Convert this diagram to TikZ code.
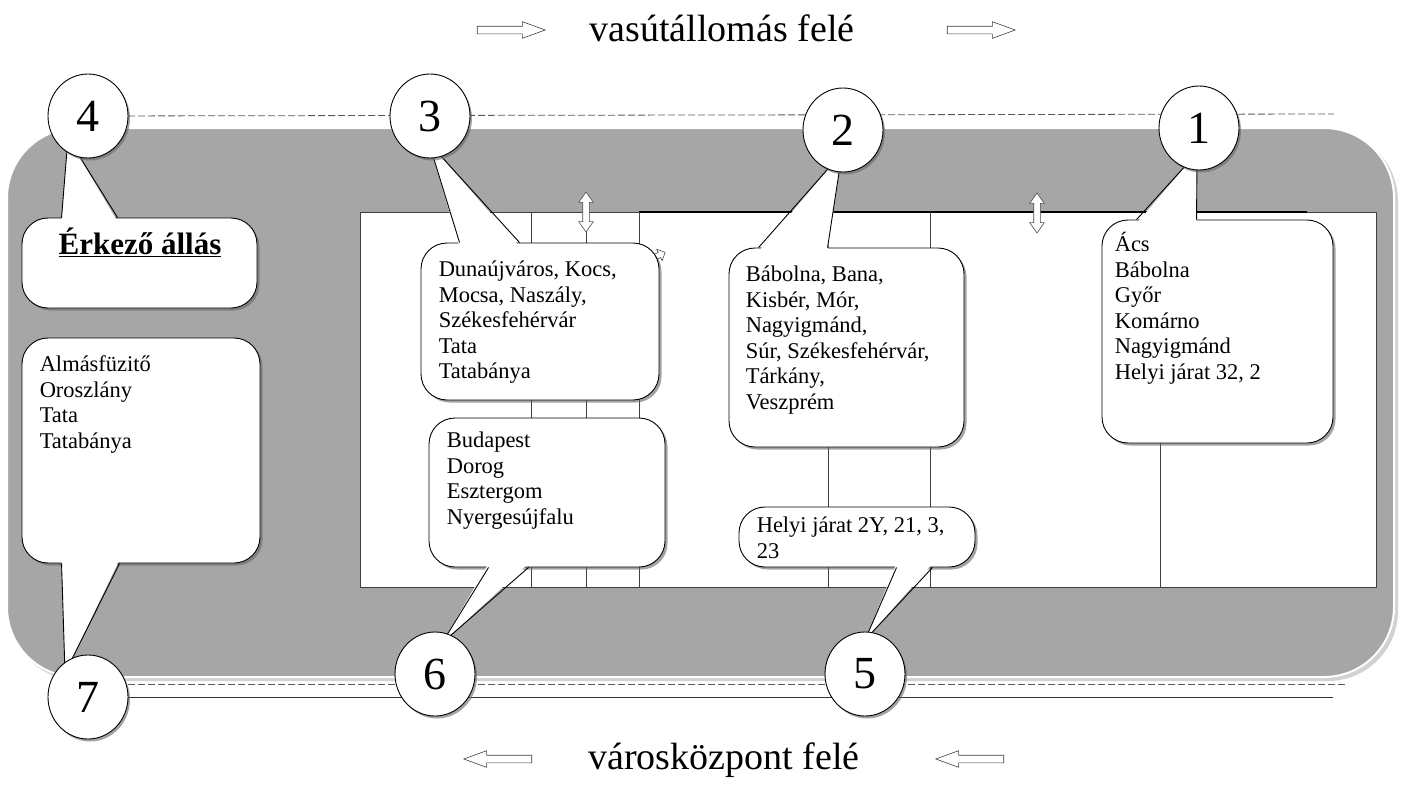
\documentclass[tikz,border=0pt]{standalone}
\usepackage{fontspec}
\setmainfont{Liberation Serif}
\usetikzlibrary{positioning}
\usetikzlibrary{calc,shapes.geometric,shapes.arrows,shadows}

\tikzset{
  road/.style={fill=gray!70, draw=white, line width=2, rounded corners=70},
  bubble/.style={draw, fill=white, line width=0.9, rounded corners=26,
    drop shadow={shadow xshift=2.5pt, shadow yshift=-2.5pt, fill=black!60, opacity=.6}},
  num/.style={ellipse, draw, fill=white, line width=0.9, minimum width=80, minimum height=84,
    inner sep=0, font=\fontsize{46}{46}\selectfont,
    drop shadow={shadow xshift=2pt, shadow yshift=-2.5pt, fill=black!60, opacity=.6}},
  txt/.style={anchor=base west, inner sep=0, font=\fontsize{22.5}{25.5}\selectfont},
  way/.style={single arrow, draw=black!75, fill=white, line width=0.6, minimum height=68,
    inner xsep=0, inner ysep=3.5, single arrow head extend=4.5, single arrow tip angle=40},
  updown/.style={double arrow, draw=black!70, fill=white, line width=0.6, minimum height=40,
    inner xsep=0, inner ysep=3, double arrow head extend=4, double arrow tip angle=70, rotate=90},
  dashline/.style={black!65, line width=0.8, dash pattern=on 7pt off 3pt},
  wall/.style={black!75, line width=0.9}
}

\begin{document}
\begin{tikzpicture}[x=1pt,y=-1pt]
\useasboundingbox (0,0) rectangle (1406,795);

% directions
\node [font=\fontsize{38}{40}\selectfont] (up) at (722,28) {vasútállomás felé};
\node [way] (up1) at (506,30) {};
\node [way] (up2) at (976,30) {};
\node [font=\fontsize{38}{40}\selectfont] (down) at (724,760) {városközpont felé};
\node [way, shape border rotate=180] (down1) at (503,759) {};
\node [way, shape border rotate=180] (down2) at (975,759) {};

% road
\fill [gray!35, rounded corners=70] (10,131) rectangle (1398,681);
\path [road] (7,128) rectangle (1394,677);

% stops and lines
\coordinate (p4) at (88,116);
\coordinate (p3) at (430,116);
\coordinate (p2) at (843,130);
\coordinate (p1) at (1199,128);
\coordinate (p7) at (88,697);
\coordinate (p6) at (435,674);
\coordinate (p5) at (865,674);
\coordinate (e1) at (1334,114);
\coordinate (e2) at (1345,684);
\coordinate (e3) at (1333,697);
\draw [dashline] (p4) -- (e1);
\draw [dashline] (p7 |- e2) -- (e2);
\draw [black!80, line width=0.9] (p7) -- (e3);

% platform
\draw [wall, fill=white] (360,212) rectangle (1376,587);
\draw [line width=2] (639,212) -- (1307,212);
\foreach \x in {531,586,639,828,930,1160}
  \draw [wall] (\x,212) -- (\x,587);
\node [single arrow, draw=black!70, fill=white, line width=0.6, minimum height=24,
  inner xsep=0, inner ysep=2.5, single arrow head extend=3.5, rotate=25] (sa) at (653,258) {};
\node [updown] (ud1) at (586,212) {};
\node [updown] (ud2) at (1037,213) {};

% callouts
\node [bubble, minimum width=235, minimum height=90] (b4) at (139.5,263) {};
\node [bubble, minimum width=238, minimum height=225] (b7) at (141,450.5) {};
\node [bubble, minimum width=238, minimum height=157] (b3) at (540,321.5) {};
\node [bubble, minimum width=236, minimum height=149] (b6) at (547,492.5) {};
\node [bubble, minimum width=235, minimum height=199] (b2) at (846.5,347.5) {};
\node [bubble, minimum width=236, minimum height=60] (b5) at (857,537) {};
\node [bubble, minimum width=231, minimum height=223] (b1) at (1217.5,331.5) {};

% tails
\coordinate (q4) at (68,138);
\coordinate (q3) at (429,143);
\coordinate (q2) at (842,153);
\coordinate (q1) at (1197,153);
\coordinate (q7) at (65,673);
\coordinate (q6) at (442,643);
\coordinate (q5) at (865,640);
\fill [white] ($(b4.north west)+(40,4)$) -- (q4) -- ($(b4.north west)+(96,4)$) -- cycle;
\draw [line width=0.9] ($(b4.north west)+(40,0)$) -- (q4) -- ($(b4.north west)+(96,0)$);
\fill [white] ($(b7.south west)+(40,-4)$) -- (q7) -- ($(b7.south west)+(98,-4)$) -- cycle;
\draw [line width=0.9] ($(b7.south west)+(40,0)$) -- (q7) -- ($(b7.south west)+(98,0)$);
\fill [white] ($(b3.north west)+(39,4)$) -- (q3) -- ($(b3.north west)+(99,4)$) -- cycle;
\draw [line width=0.9] ($(b3.north west)+(39,0)$) -- (q3) -- ($(b3.north west)+(99,0)$);
\fill [white] ($(b6.south west)+(60,-4)$) -- (q6) -- ($(b6.south west)+(100,-4)$) -- cycle;
\draw [line width=0.9] ($(b6.south west)+(60,0)$) -- (q6) -- ($(b6.south west)+(100,0)$);
\fill [white] ($(b2.north west)+(30,4)$) -- (q2) -- ($(b2.north west)+(99,4)$) -- cycle;
\draw [line width=0.9] ($(b2.north west)+(30,0)$) -- (q2) -- ($(b2.north west)+(99,0)$);
\fill [white] ($(b5.south west)+(158,-4)$) -- (q5) -- ($(b5.south west)+(194,-4)$) -- cycle;
\draw [line width=0.9] ($(b5.south west)+(158,0)$) -- (q5) -- ($(b5.south west)+(194,0)$);
\fill [white] ($(b1.north west)+(35,4)$) -- (q1) -- ($(b1.north west)+(95,4)$) -- cycle;
\draw [line width=0.9] ($(b1.north west)+(35,0)$) -- (q1) -- ($(b1.north west)+(95,0)$);

% texts
\node [anchor=base, inner sep=0, font=\fontsize{31}{34}\selectfont\bfseries] (l4) at (140,254)
  {\underline{Érkező állás}};
\node [txt] (l7) at ($(b7.north west)+(18,34)$)
  {\begin{tabular}[t]{@{}l@{}}Almásfüzitő\\ Oroszlány\\ Tata\\ Tatabánya\end{tabular}};
\node [txt] (l3) at ($(b3.north west)+(18,34)$)
  {\begin{tabular}[t]{@{}l@{}}Dunaújváros, Kocs,\\ Mocsa, Naszály,\\ Székesfehérvár\\ Tata\\ Tatabánya\end{tabular}};
\node [txt] (l6) at ($(b6.north west)+(18,30)$)
  {\begin{tabular}[t]{@{}l@{}}Budapest\\ Dorog\\ Esztergom\\ Nyergesújfalu\end{tabular}};
\node [txt] (l2) at ($(b2.north west)+(17,34)$)
  {\begin{tabular}[t]{@{}l@{}}Bábolna, Bana,\\ Kisbér, Mór,\\ Nagyigmánd,\\ Súr, Székesfehérvár,\\ Tárkány,\\ Veszprém\end{tabular}};
\node [txt] (l5) at ($(b5.north west)+(18,26)$)
  {\begin{tabular}[t]{@{}l@{}}Helyi járat 2Y, 21, 3,\\ 23\end{tabular}};
\node [txt] (l1) at ($(b1.north west)+(13,32)$)
  {\begin{tabular}[t]{@{}l@{}}Ács\\ Bábolna\\ Győr\\ Komárno\\ Nagyigmánd\\ Helyi járat 32, 2\end{tabular}};

% stop numbers
\node [num] (c4) at (p4) {4};
\node [num] (c3) at (p3) {3};
\node [num] (c2) at (p2) {2};
\node [num] (c1) at (p1) {1};
\node [num] (c7) at (p7) {7};
\node [num] (c6) at (p6) {6};
\node [num] (c5) at (p5) {5};
\end{tikzpicture}
\end{document}
